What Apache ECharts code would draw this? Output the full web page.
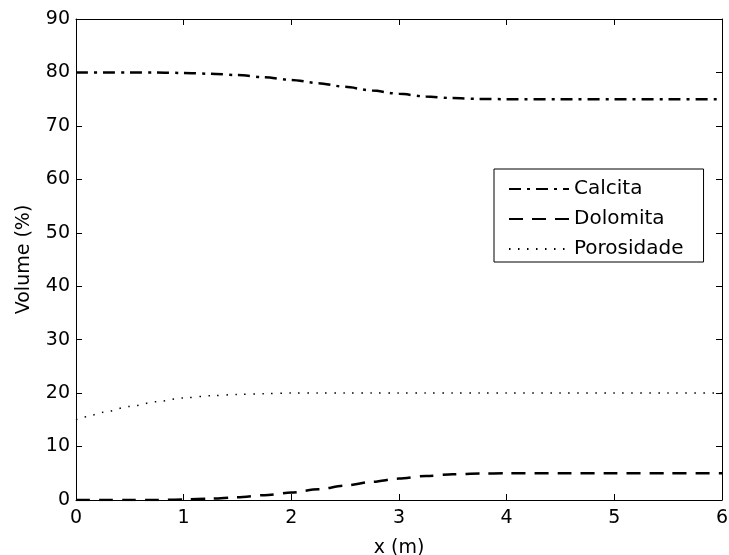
<!DOCTYPE html>
<html>
<head>
<meta charset="utf-8">
<script src="https://cdn.jsdelivr.net/npm/echarts@6/dist/echarts.min.js"></script>
<style>
  html, body { margin: 0; padding: 0; background: #fff; }
  #chart { width: 729px; height: 555px; }
</style>
</head>
<body>
<div id="chart"></div>
<script>
var myChart = echarts.init(document.getElementById('chart'));

// posicoes em x (m)
var xs = [0, 0.1, 0.25, 0.5, 0.75, 1, 1.25, 1.5, 1.75, 2, 2.25, 2.5, 2.75, 3, 3.25, 3.5, 3.75, 4, 4.5, 5, 5.5, 6];

// volumes (%)
var calcita = [80, 80, 80, 80, 80, 79.9, 79.75, 79.5, 79.1, 78.6, 78.0, 77.3, 76.6, 76.0, 75.5, 75.2, 75.05, 75, 75, 75, 75, 75];
var dolomita = [0, 0, 0, 0, 0, 0.1, 0.25, 0.5, 0.9, 1.4, 2.0, 2.7, 3.4, 4.0, 4.5, 4.8, 4.95, 5, 5, 5, 5, 5];
var porosidade = [15, 15.6, 16.4, 17.5, 18.4, 19.1, 19.5, 19.75, 19.9, 20, 20, 20, 20, 20, 20, 20, 20, 20, 20, 20, 20, 20];

var nomes = ['Calcita', 'Dolomita', 'Porosidade'];

function pares(ys) {
    var res = [];
    for (var i = 0; i < xs.length; i++) {
        res.push([xs[i], ys[i]]);
    }
    return res;
}

var fonte = '"DejaVu Sans", sans-serif';
var eixoLinha = { show: true, onZero: false, lineStyle: { color: '#000', width: 1 } };
var eixoTick = { show: true, inside: true, length: 6, lineStyle: { color: '#000' } };

option = {
    animation: false,
    backgroundColor: '#fff',
    grid: { left: 76, right: 7, top: 19, bottom: 55, outerBoundsMode: 'none', containLabel: false },
    legend: {
        orient: 'vertical',
        left: 494,
        top: 169,
        data: nomes,
        itemWidth: 60,
        itemHeight: 14,
        itemGap: 10,
        padding: [10, 20, 3, 14],
        borderColor: '#000',
        borderWidth: 1,
        backgroundColor: '#fff',
        itemStyle: { opacity: 0 },
        textStyle: { fontFamily: fonte, fontSize: 20, lineHeight: 20, color: '#000' }
    },
    xAxis: [
        {
            type: 'value', min: 0, max: 6, interval: 1,
            name: 'x (m)', nameLocation: 'middle', nameGap: 39,
            nameTextStyle: { fontFamily: fonte, fontSize: 19, color: '#000' },
            axisLine: eixoLinha, axisTick: eixoTick,
            axisLabel: { fontFamily: fonte, fontSize: 19, color: '#000', margin: 9 },
            splitLine: { show: false }
        },
        {
            type: 'value', min: 0, max: 6, interval: 1, position: 'top',
            axisLine: eixoLinha, axisTick: eixoTick,
            axisLabel: { show: false }, splitLine: { show: false }
        }
    ],
    yAxis: [
        {
            type: 'value', min: 0, max: 90, interval: 10,
            name: 'Volume (%)', nameLocation: 'middle', nameGap: 42,
            nameTextStyle: { fontFamily: fonte, fontSize: 19, color: '#000' },
            axisLine: eixoLinha, axisTick: eixoTick,
            axisLabel: { fontFamily: fonte, fontSize: 19, color: '#000', margin: 6 },
            splitLine: { show: false }
        },
        {
            type: 'value', min: 0, max: 90, interval: 10, position: 'right',
            axisLine: eixoLinha, axisTick: eixoTick,
            axisLabel: { show: false }, splitLine: { show: false }
        }
    ],
    series: [
        {
            name: 'Calcita', type: 'line', data: pares(calcita),
            showSymbol: false, symbol: 'none', smooth: 0.3, smoothMonotone: 'x',
            itemStyle: { color: '#000' },
            lineStyle: { color: '#000', width: 2.5, type: [12, 6, 3, 6] }
        },
        {
            name: 'Dolomita', type: 'line', data: pares(dolomita),
            showSymbol: false, symbol: 'none', smooth: 0.3, smoothMonotone: 'x',
            itemStyle: { color: '#000' },
            lineStyle: { color: '#000', width: 2.5, type: [14, 9] }
        },
        {
            name: 'Porosidade', type: 'line', data: pares(porosidade),
            showSymbol: false, symbol: 'none', smooth: 0.3, smoothMonotone: 'x',
            itemStyle: { color: '#000' },
            lineStyle: { color: '#000', width: 1.5, type: [1.5, 7.5] }
        }
    ]
};

myChart.setOption(option);
</script>
</body>
</html>
